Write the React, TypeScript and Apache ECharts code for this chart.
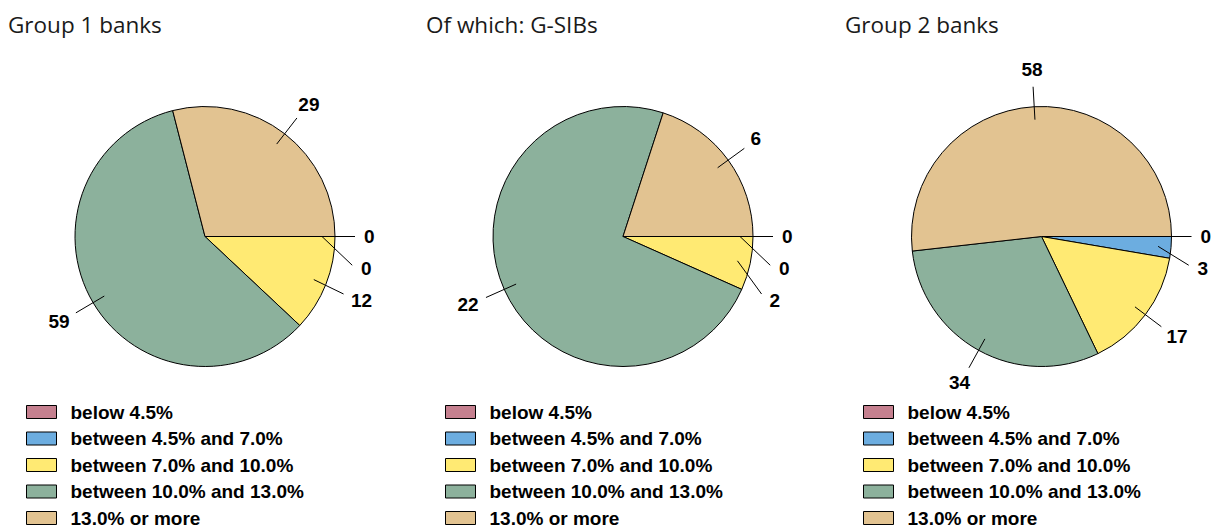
import React, { useEffect, useRef } from "react";
import * as echarts from "echarts";

const categories = [
  "below 4.5%",
  "between 4.5% and 7.0%",
  "between 7.0% and 10.0%",
  "between 10.0% and 13.0%",
  "13.0% or more",
];
const sliceColors = ["#C5808F", "#6CADE0", "#FFEA73", "#8CB19C", "#E2C391"];
const panelTitles = ["Group 1 banks", "Of which: G-SIBs", "Group 2 banks"];
const group1Values = [0, 0, 12, 59, 29];
const gsibValues = [0, 0, 2, 22, 6];
const group2Values = [0, 3, 17, 34, 58];
const panelValues = [group1Values, gsibValues, group2Values];

// layout (pixels)
const centersX = [205, 623, 1041.5];
const centerY = 236.5;
const R = 130;
const titleLeft = [8, 426, 845];
const legendLeft = [26, 445, 863];

const TEXT_RX = 159;
const TEXT_RY = 167;
const LINE_START = R * 0.9;
const LINE_END = 150;
const MIN_GAP = 32;

function computeLabels(values: number[], cx: number, cy: number) {
  const total = values.reduce((a, b) => a + b, 0);
  let acc = 0;
  const items = values.map((v, i) => {
    const a0 = (acc / total) * Math.PI * 2;
    acc += v;
    const a1 = (acc / total) * Math.PI * 2;
    const mid = (a0 + a1) / 2;
    const side = Math.cos(mid) >= -1e-9 ? 1 : -1;
    return { i, mid, side, y: cy + TEXT_RY * Math.sin(mid) };
  });
  [1, -1].forEach((s) => {
    const group = items.filter((it) => it.side === s).sort((a, b) => a.y - b.y || a.i - b.i);
    for (let k = 1; k < group.length; k++) {
      if (group[k].y < group[k - 1].y + MIN_GAP) group[k].y = group[k - 1].y + MIN_GAP;
    }
  });
  return items.map((it) => {
    const s = Math.max(-1, Math.min(1, (it.y - cy) / TEXT_RY));
    const c = Math.cos(it.mid) >= -1e-9 ? Math.sqrt(1 - s * s) : -Math.sqrt(1 - s * s);
    return {
      ax: cx + TEXT_RX * c,
      ay: cy + TEXT_RY * s,
      adj: (1 - c) / 2,
      x1: cx + LINE_START * Math.cos(it.mid),
      y1: cy + LINE_START * Math.sin(it.mid),
      x2: cx + LINE_END * c,
      y2: cy + LINE_END * s,
    };
  });
}

export default function App() {
  const ref = useRef<HTMLDivElement>(null);
  useEffect(() => {
    if (!ref.current) return;
    const chart = echarts.init(ref.current, null, { renderer: "svg" });
    const labelFont = "'Liberation Sans', Arial, sans-serif";
    const layouts = panelValues.map((vals, p) => computeLabels(vals, centersX[p], centerY));
    const leaderLines: any[] = [];
    layouts.forEach((lay) =>
      lay.forEach((L) =>
        leaderLines.push({
          type: "line",
          silent: true,
          z: 100,
          shape: { x1: L.x1, y1: L.y1, x2: L.x2, y2: L.y2 },
          style: { stroke: "#000", lineWidth: 1 },
        })
      )
    );
    const option: any = {
      animation: false,
      backgroundColor: "#ffffff",
      title: panelTitles.map((t, p) => ({
        text: t,
        left: titleLeft[p],
        top: 11,
        padding: 0,
        textStyle: {
          fontFamily: "'Open Sans', 'Noto Sans', sans-serif",
          fontSize: 22.5,
          fontWeight: "normal",
          color: "#1a1a1a",
          lineHeight: 26,
        },
      })),
      legend: panelTitles.map((_, p) => ({
        orient: "vertical",
        left: legendLeft[p],
        top: 402.5,
        height: 126,
        padding: 0,
        itemWidth: 30,
        itemHeight: 13,
        itemGap: 7.5,
        icon: "rect",
        selectedMode: false,
        data: categories,
        itemStyle: { borderColor: "#000", borderWidth: 1 },
        textStyle: {
          fontFamily: labelFont,
          fontWeight: "bold",
          fontSize: 19,
          lineHeight: 19,
          color: "#000",
          padding: [0, 0, 0, 9],
        },
      })),
      graphic: { elements: leaderLines },
      series: panelValues.map((vals, p) => ({
        type: "pie",
        name: panelTitles[p],
        center: [centersX[p], centerY],
        radius: R,
        startAngle: 0,
        clockwise: true,
        avoidLabelOverlap: false,
        minShowLabelAngle: 0,
        silent: true,
        emphasis: { disabled: true },
        itemStyle: { borderColor: "#000", borderWidth: 1 },
        label: {
          show: true,
          position: "outside",
          formatter: "{c}",
          fontFamily: labelFont,
          fontWeight: "bold",
          fontSize: 19,
          color: "#000",
        },
        labelLine: { show: false },
        labelLayout: (params: any) => {
          const L = layouts[p][params.dataIndex];
          const w = params.labelRect ? params.labelRect.width : 0;
          return {
            x: L.ax - L.adj * w,
            y: L.ay,
            align: "left",
            verticalAlign: "middle",
          };
        },
        data: categories.map((c, i) => ({
          name: c,
          value: vals[i],
          itemStyle: { color: sliceColors[i] },
        })),
      })),
    };
    chart.setOption(option);
    return () => chart.dispose();
  }, []);
  return (
    <div
      ref={ref}
      style={{ position: "fixed", left: 0, top: 0, width: 1212, height: 529, background: "#fff" }}
    />
  );
}
